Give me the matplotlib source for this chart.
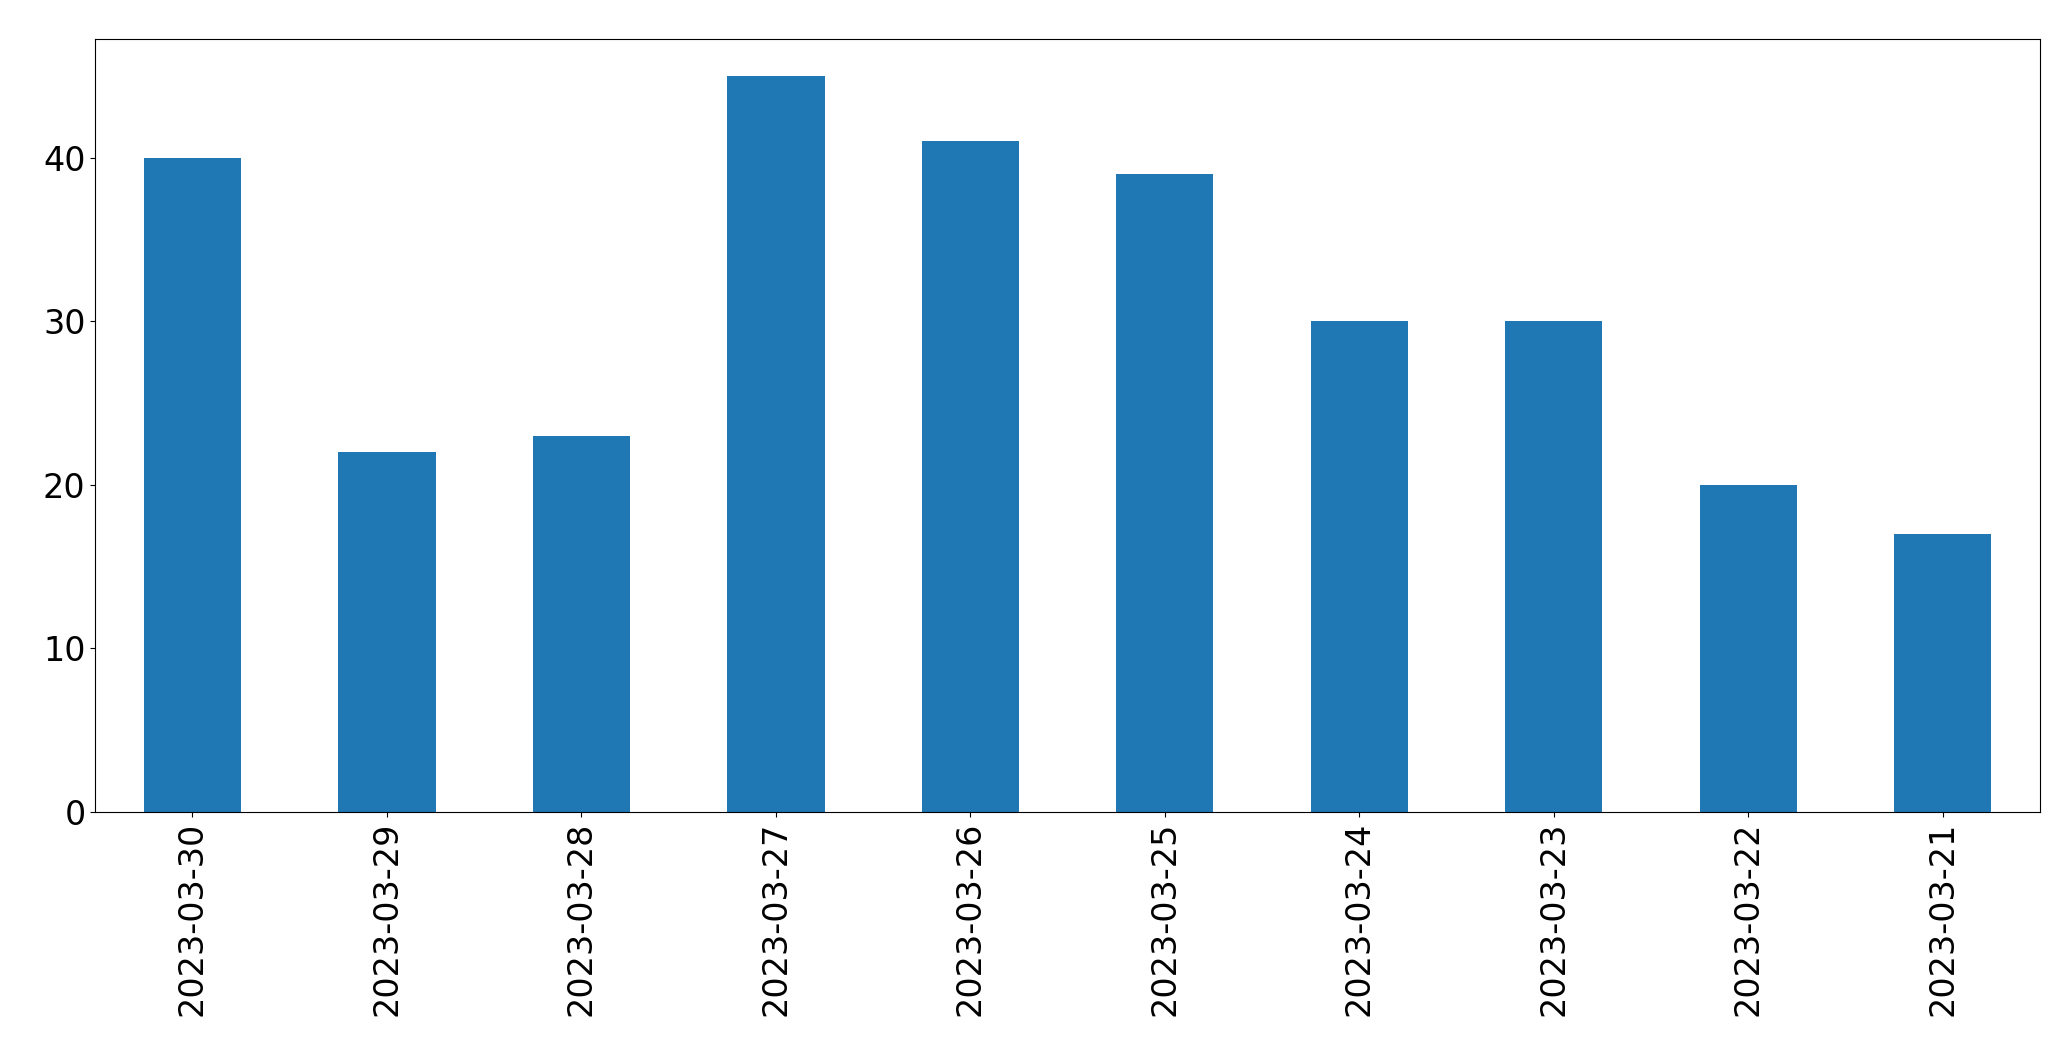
import pandas as pd
import matplotlib
matplotlib.use('Agg')
import matplotlib.pyplot as plt

# данные с графика
dates = ['2023-03-30', '2023-03-29', '2023-03-28', '2023-03-27', '2023-03-26',
         '2023-03-25', '2023-03-24', '2023-03-23', '2023-03-22', '2023-03-21']
counts = [40, 22, 23, 45, 41, 39, 30, 30, 20, 17]

s = pd.Series(counts, index=dates)

fig = plt.figure(figsize=(20.71, 10.61), dpi=100)
ax = fig.add_axes([0.046, 0.235, 0.939, 0.728])
s.plot(kind='bar', ax=ax, color='#1f77b4', width=0.5)
ax.tick_params(axis='both', labelsize=24)
plt.setp(ax.get_xticklabels(), rotation=90)
fig.savefig('out.png', dpi=100)
plt.close(fig)
